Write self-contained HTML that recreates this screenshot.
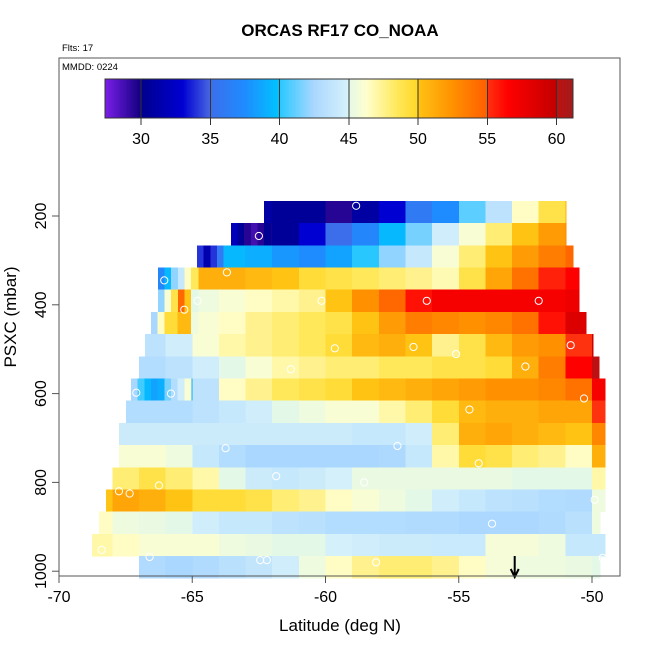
<!DOCTYPE html>
<html><head><meta charset="utf-8"><style>
body{margin:0;background:#fff}
svg text{font-family:"Liberation Sans",sans-serif}
</style></head><body>
<svg id="chart" width="650" height="650" viewBox="0 0 650 650" xmlns="http://www.w3.org/2000/svg">
<rect x="0" y="0" width="650" height="650" fill="#fff"/>
<text x="340" y="36" text-anchor="middle" font-size="17" font-weight="bold">ORCAS RF17 CO_NOAA</text>
<text x="62" y="51" font-size="9.5">Flts: 17</text>
<g id="heat" shape-rendering="crispEdges"></g>
<g id="pts"></g>
<rect x="59" y="58" width="561" height="518" fill="none" stroke="#555" stroke-width="1"/>
<text x="62" y="70" font-size="9.5">MMDD: 0224</text>
<g id="cbar" shape-rendering="crispEdges"></g>
<g id="axes"></g>
<text x="340" y="631" text-anchor="middle" font-size="17">Latitude (deg N)</text>
<text transform="translate(16,317) rotate(-90)" text-anchor="middle" font-size="17">PSXC (mbar)</text>
</svg>
<script>
// ---- data ----
const rowTops = [166,216,266,316,366,416,466,516,566,616,666,716,766,816,866,916,966];
const rowStart = [-63,-64,-65,-67,-67,-67,-67,-67,-68,-68,-68,-68,-68,-69,-69,-69,-67];
const rowMin = [-62.31,-63.55,-64.82,-66.29,-66.29,-66.55,-66.77,-67.04,-67.3,-67.49,-67.75,-67.75,-68.01,-68.24,-68.5,-68.76,-67.04];
const rowMax = [-50.98,-50.98,-50.71,-50.49,-50.49,-50.23,-49.96,-49.74,-49.51,-49.51,-49.51,-49.51,-49.51,-49.51,-49.7,-49.51,-49.7];
const row0 = [31,30.5,30.5,29.5,31,33,36,37.5,41,43.5,46.5,49,51];
const row1 = [32,29.5,30.5,33,35,37,39.5,41.5,44.5,46,48,50,52,53];
const row2 = [33,39.5,39,38,37.5,38.5,40,42,44,46,48,50,52,53.5,54.5];
const row3 = [37,41,51,51,50.5,50,49.5,49,48.5,48,47.5,46.8,49,51.5,54,55.5,56.5];
const row4 = [43,51,45.5,46,46.5,47,47.5,50,52.5,54.5,56,57,57,57,57,57,57.5];
const row5 = [44.5,50,46,46.5,47.5,48,48.5,49,50,52,53.5,53,52.5,53,54,56,58.5,59];
const row6 = [43.5,44.5,46,47,47.5,48,48.5,49.5,50.5,51,50,47.5,49,50.5,52,52.5,55,59.5];
const row7 = [43,43.5,44.5,45,46,47,47.5,48,48,48.5,48.5,49,49,49.5,51,53.5,56.5,60];
const row8 = [42,40,39,43.5,46.5,47.5,48.5,49,49.5,50,50.5,51,51.5,52,52.5,52.5,53,54,57];
const row9 = [43,43,43,43.5,44,44.5,45,45.5,46,46,47,48,49.5,50.5,51,51,51.5,51.5,55];
const row10 = [44.3,44.3,44.3,44.3,44.3,44.3,44.3,44.3,44.3,44,44,44.5,48,51,51.5,51,50.5,50,53];
const row11 = [46,46,45.5,44,43,42.5,42.5,42.5,42.5,42.5,42.7,44,47,49.5,49,48,47.5,46.5,51];
const row12 = [48,49,48,47,45,44.3,44,44.3,44.8,45.3,45.3,45.3,45.3,45.3,45.3,45,45,45,47];
const row13 = [50,51.5,51,50,49.5,49.5,49,48,47.5,46.5,46,45.5,45,44.5,44,43.5,43.3,43,42.8,45.5];
const row14 = [46.5,45.5,45.3,45,44.5,44,44,43.5,43.3,43,43,43,42.8,42.8,42.6,42.6,42.6,42.8,43.3,45.5];
const row15 = [47,46.5,46,46,46,45.5,45.3,45,45,44.8,44.5,44.3,44.3,44.2,44.2,45.8,45.8,45.5,44,44];
const row16 = [42.8,42.5,42.8,43.3,43.8,44.5,45.5,46.5,47.5,48,48,47.5,46.5,45.8,45.5,45.5,45.3,45];
const rows = [row0,row1,row2,row3,row4,row5,row6,row7,row8,row9,row10,row11,row12,row13,row14,row15,row16];
// fine 0.25-degree detail at the southern (left) end of some rows
const lead0 = [];
const lead1 = [32,30.5,29.5,28.8,29.5,30.3];
const lead2 = [34,31.5,34,36,39.5];
const lead3 = [37,39.5,42,44,46.5,48.5];
const lead4 = [42,46,49,54.5,50,45];
const lead5 = [42.5,46.5,49.5,49.5,50.5,50.5,45.5];
const lead8 = [42.5,40.5,39.5,38.5,39,41.5,43,44.5,46];
const leads = [lead0,lead1,lead2,lead3,lead4,lead5,[],[],lead8,[],[],[],[],[],[],[],[]];
const ptLat = [-58.85,-50.5,-62.5,-63.7,-66.05,-65.3,-64.8,-60.15,-56.2,-52.0,-59.65,-56.7,-55.1,-50.8,-52.5,-49.1,-61.3,-50.3,-54.6,-65.8,-67.1,-63.75,-57.3,-54.25,-61.85,-58.55,-66.25,-67.75,-67.35,-49.9,-53.75,-68.4,-66.6,-62.45,-62.2,-58.1,-49.6];
const ptP = [177,195,245,327,345,411,391,391,391,391,498,495,511,491,539,539,545,611,636,600,598,723,718,757,786,800,807,820,825,839,893,952,968,975,975,980,970];
const xTicks = [-70,-65,-60,-55,-50];
const yTicks = [200,400,600,800,1000];
const cbTicks = [30,35,40,45,50,55,60];
const arrowLat = -52.9;

// ---- scales ----
const X = lat => 59 + (lat + 70) * 26.65;
const Y = p => 127.2 + p * 0.444;
const CB = v => 105 + (v - 27.4) * 13.85;
const stops = [[27.4,[122,30,232]],[29.95,[20,0,130]],[30,[0,0,140]],[33,[0,0,210]],[34.95,[70,100,225]],[35,[60,110,235]],[37.5,[30,140,255]],[39.95,[0,195,255]],[40,[40,200,255]],[42.5,[170,215,255]],[44.95,[215,242,250]],[45,[228,248,232]],[46.3,[255,255,205]],[48.5,[255,232,90]],[49.95,[255,215,40]],[50,[255,195,20]],[52.5,[255,145,0]],[54.95,[255,95,0]],[55,[255,50,15]],[56.5,[255,0,0]],[59.95,[195,0,0]],[60,[190,16,16]],[61.3,[160,30,30]]];
function col(v){
  if(v<=stops[0][0]) v=stops[0][0];
  for(let i=1;i<stops.length;i++){
    if(v<=stops[i][0]){const a=stops[i-1],b=stops[i],t=(v-a[0])/(b[0]-a[0]);
      const c=a[1].map((q,j)=>Math.round(q+(b[1][j]-q)*t));return `rgb(${c})`;}
  }
  return `rgb(${stops[stops.length-1][1]})`;
}
const NS='http://www.w3.org/2000/svg';
function mk(tag,attrs,parent){const e=document.createElementNS(NS,tag);for(const k in attrs)e.setAttribute(k,attrs[k]);parent.appendChild(e);return e;}

// heatmap
const heat=document.getElementById('heat');
function cell(a,b,y0,y1,v){
  const e=mk('rect',{x:X(a).toFixed(2),y:y0.toFixed(2),width:(X(b)-X(a)+0.6).toFixed(2),height:(y1-y0+0.4).toFixed(2),fill:col(v)},heat);
  
  
}
rows.forEach((vals,r)=>{
  const y0=Y(rowTops[r]), y1=Y(rowTops[r]+50);
  vals.forEach((v,k)=>{
    let a=Math.max(rowStart[r]+k,rowMin[r]), b=Math.min(rowStart[r]+k+1,rowMax[r]);
    if(b<=a) return;
    cell(a,b,y0,y1,v);
  });
  leads[r].forEach((v,k)=>{
    const a=rowMin[r]+k*0.25;
    cell(a,a+0.25,y0,y1,v);
  });
});
// points
const pts=document.getElementById('pts');
ptLat.forEach((l,i)=>{
  const c=mk('circle',{cx:X(l),cy:Y(ptP[i]),r:3.6,fill:'none',stroke:'#fff','stroke-width':1},pts);
  
  
});
// arrow
const ax=X(arrowLat);
const arr=mk('path',{d:`M${ax} 556 L${ax} 577 M${ax-4} 569 L${ax} 577 L${ax+4} 569`,stroke:'#000','stroke-width':2,fill:'none'},pts);



// colorbar
const cb=document.getElementById('cbar');
for(let v=27.4;v<61.2;v+=0.1){
  const e=mk('rect',{x:CB(v).toFixed(2),y:79,width:1.8,height:39,fill:col(v+0.05)},cb);
  
  
}
mk('rect',{x:105,y:79,width:468,height:39,fill:'none',stroke:'#333','stroke-width':1},cb);
cbTicks.forEach(t=>{
  const x=CB(t);
  const ln=mk('line',{x1:x,x2:x,y1:79,y2:125,stroke:'#333','stroke-width':1},cb);
  
  
  const tx=mk('text',{x:x,y:144,'text-anchor':'middle','font-size':16},cb);
  tx.textContent=t;
  
  
});

// axes
const axes=document.getElementById('axes');
xTicks.forEach(t=>{
  const x=X(t);
  const ln=mk('line',{x1:x,x2:x,y1:576,y2:583,stroke:'#555'},axes);
  
  
  const tx=mk('text',{x:x,y:602,'text-anchor':'middle','font-size':16},axes);
  tx.textContent=t;
  
  
});
yTicks.forEach(t=>{
  const y=Y(t);
  const ln=mk('line',{x1:52,x2:59,y1:y,y2:y,stroke:'#555'},axes);
  
  
  const tx=mk('text',{transform:`translate(46,${y}) rotate(-90)`,'text-anchor':'middle','font-size':16},axes);
  tx.textContent=t;
  
  
});
</script>
</body></html>
